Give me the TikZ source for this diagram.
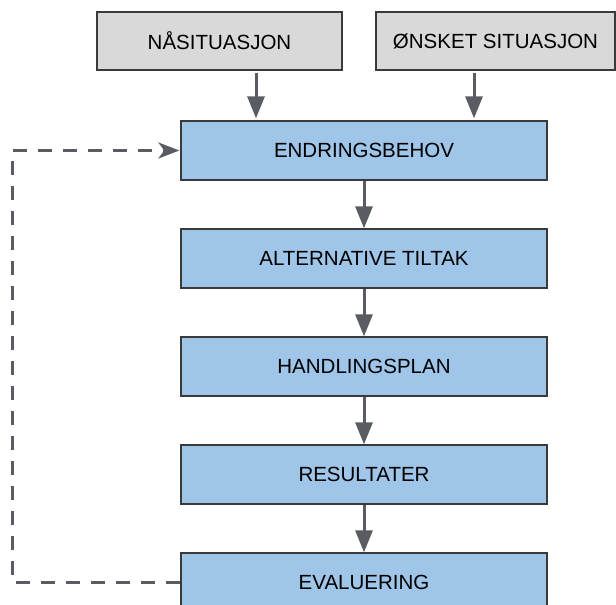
\documentclass[tikz,border=0pt]{standalone}
\usepackage{fontspec}
\setmainfont{Liberation Sans}
\usetikzlibrary{arrows.meta}
\definecolor{boxblue}{HTML}{9FC5E8}
\definecolor{boxgray}{HTML}{D9D9D9}
\definecolor{edge}{HTML}{3A3A3A}
\definecolor{linkgray}{HTML}{595D63}
\tikzset{
  stagebox/.style={draw=edge, line width=1.3bp, fill=boxblue, minimum width=366bp,
    minimum height=59bp, inner sep=0pt, font=\fontsize{20.5bp}{24bp}\selectfont, text=black},
  inputbox/.style={stagebox, fill=boxgray, minimum height=58bp},
  flow/.style={draw=linkgray, line width=3bp, -{Triangle[length=22bp,width=17bp]}},
  feedback/.style={draw=linkgray, line width=3bp, dash pattern=on 14bp off 11bp,
    -{Stealth[length=21bp,width=16bp,inset=6bp]}}
}
\begin{document}
\begin{tikzpicture}[x=1bp,y=-1bp]
  \useasboundingbox (0,0) rectangle (616,605);
  % input situations
  \node[inputbox, minimum width=245bp] (na) at (219.5,41) {NÅSITUASJON};
  \node[inputbox, minimum width=239bp] (onsket) at (495.5,41) {ØNSKET SITUASJON};
  % main chain of stages
  \node[stagebox] (behov) at (364,150.5) {ENDRINGSBEHOV};
  \node[stagebox] (tiltak) at (364,258.5) {ALTERNATIVE TILTAK};
  \node[stagebox] (plan) at (364,366.5) {HANDLINGSPLAN};
  \node[stagebox] (res) at (364,474.5) {RESULTATER};
  \node[stagebox] (eval) at (364,582.5) {EVALUERING};
  % inputs into the need for change
  \draw[flow, shorten <=2bp, shorten >=2bp] (na.south -| 256,0) -- (behov.north -| 256,0);
  \draw[flow, shorten <=2bp, shorten >=2bp] (onsket.south -| 474,0) -- (behov.north -| 474,0);
  % stage to stage
  \draw[flow] (behov) -- (tiltak);
  \draw[flow] (tiltak) -- (plan);
  \draw[flow] (plan) -- (res);
  \draw[flow] (res) -- (eval);
  % feedback loop from evaluation back to the need for change
  \coordinate (loopbot) at (12.7,582.5);
  \coordinate (looptop) at (12.7,150.5);
  \draw[feedback, shorten >=1bp] (eval.west) -- (loopbot) -- (looptop) -- (behov.west);
\end{tikzpicture}
\end{document}
